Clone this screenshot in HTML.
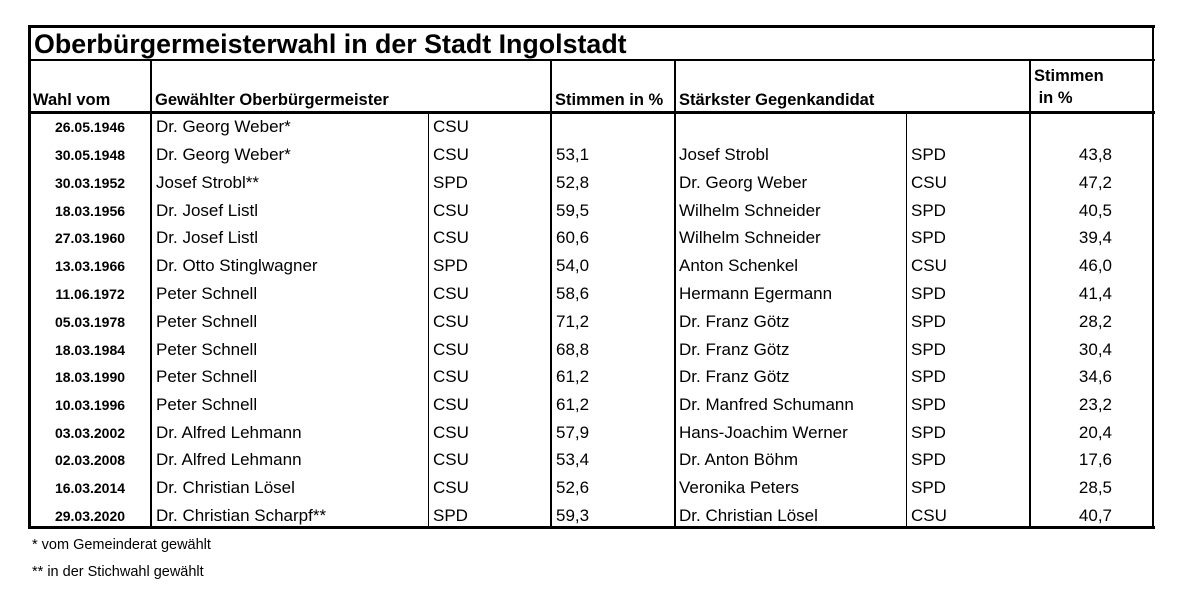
<!DOCTYPE html>
<html><head><meta charset="utf-8"><style>
body{margin:0;background:#fff;width:1186px;height:596px;position:relative;overflow:hidden;font-family:"Liberation Sans",Arial,sans-serif;color:#000}
div{position:absolute;white-space:nowrap}
.l{background:#000}
.t{line-height:20px}
.d{font-weight:bold;font-size:14px;width:120px;left:30px;text-align:center}
.n{font-size:17px;left:156px}
.p{font-size:17px;left:433px}
.s{font-size:17px;left:556px}
.o{font-size:17px;left:679px}
.q{font-size:17px;left:911px}
.v{font-size:17px;left:1030px;width:82px;text-align:right}
.h{font-weight:bold;font-size:16.5px}
</style></head><body>
<div class="l" style="left:28px;top:25px;width:1127px;height:3px"></div>
<div class="l" style="left:28px;top:59px;width:1127px;height:2px"></div>
<div class="l" style="left:28px;top:111px;width:1127px;height:3px"></div>
<div class="l" style="left:28px;top:526px;width:1127px;height:3px"></div>
<div class="l" style="left:28px;top:25px;width:3px;height:504px"></div>
<div class="l" style="left:1152px;top:25px;width:2px;height:504px"></div>
<div class="l" style="left:150px;top:60px;width:2px;height:468px"></div>
<div class="l" style="left:428px;top:113px;width:1px;height:415px"></div>
<div class="l" style="left:550px;top:60px;width:2px;height:468px"></div>
<div class="l" style="left:674px;top:60px;width:2px;height:468px"></div>
<div class="l" style="left:906px;top:113px;width:1px;height:415px"></div>
<div class="l" style="left:1029px;top:60px;width:2px;height:468px"></div>
<div style="left:34px;top:28px;font-size:26.8px;font-weight:bold;line-height:32px">Oberbürgermeisterwahl in der Stadt Ingolstadt</div>
<div class="h" style="left:33px;top:91px">Wahl vom</div>
<div class="h" style="left:155px;top:91px">Gewählter Oberbürgermeister</div>
<div class="h" style="left:555px;top:91px">Stimmen in %</div>
<div class="h" style="left:679px;top:91px">Stärkster Gegenkandidat</div>
<div class="h" style="left:1034px;top:67px">Stimmen</div>
<div class="h" style="left:1034px;top:89px">&nbsp;in %</div>
<div class="t" style="left:0;top:117px;width:1186px;height:0">
<div class="d" style="top:0">26.05.1946</div><div class="n">Dr. Georg Weber*</div><div class="p">CSU</div>
</div>
<div class="t" style="left:0;top:145px;width:1186px"><div class="d">30.05.1948</div><div class="n">Dr. Georg Weber*</div><div class="p">CSU</div><div class="s">53,1</div><div class="o">Josef Strobl</div><div class="q">SPD</div><div class="v">43,8</div></div>
<div class="t" style="left:0;top:173px;width:1186px"><div class="d">30.03.1952</div><div class="n">Josef Strobl**</div><div class="p">SPD</div><div class="s">52,8</div><div class="o">Dr. Georg Weber</div><div class="q">CSU</div><div class="v">47,2</div></div>
<div class="t" style="left:0;top:201px;width:1186px"><div class="d">18.03.1956</div><div class="n">Dr. Josef Listl</div><div class="p">CSU</div><div class="s">59,5</div><div class="o">Wilhelm Schneider</div><div class="q">SPD</div><div class="v">40,5</div></div>
<div class="t" style="left:0;top:228px;width:1186px"><div class="d">27.03.1960</div><div class="n">Dr. Josef Listl</div><div class="p">CSU</div><div class="s">60,6</div><div class="o">Wilhelm Schneider</div><div class="q">SPD</div><div class="v">39,4</div></div>
<div class="t" style="left:0;top:256px;width:1186px"><div class="d">13.03.1966</div><div class="n">Dr. Otto Stinglwagner</div><div class="p">SPD</div><div class="s">54,0</div><div class="o">Anton Schenkel</div><div class="q">CSU</div><div class="v">46,0</div></div>
<div class="t" style="left:0;top:284px;width:1186px"><div class="d">11.06.1972</div><div class="n">Peter Schnell</div><div class="p">CSU</div><div class="s">58,6</div><div class="o">Hermann Egermann</div><div class="q">SPD</div><div class="v">41,4</div></div>
<div class="t" style="left:0;top:312px;width:1186px"><div class="d">05.03.1978</div><div class="n">Peter Schnell</div><div class="p">CSU</div><div class="s">71,2</div><div class="o">Dr. Franz Götz</div><div class="q">SPD</div><div class="v">28,2</div></div>
<div class="t" style="left:0;top:340px;width:1186px"><div class="d">18.03.1984</div><div class="n">Peter Schnell</div><div class="p">CSU</div><div class="s">68,8</div><div class="o">Dr. Franz Götz</div><div class="q">SPD</div><div class="v">30,4</div></div>
<div class="t" style="left:0;top:367px;width:1186px"><div class="d">18.03.1990</div><div class="n">Peter Schnell</div><div class="p">CSU</div><div class="s">61,2</div><div class="o">Dr. Franz Götz</div><div class="q">SPD</div><div class="v">34,6</div></div>
<div class="t" style="left:0;top:395px;width:1186px"><div class="d">10.03.1996</div><div class="n">Peter Schnell</div><div class="p">CSU</div><div class="s">61,2</div><div class="o">Dr. Manfred Schumann</div><div class="q">SPD</div><div class="v">23,2</div></div>
<div class="t" style="left:0;top:423px;width:1186px"><div class="d">03.03.2002</div><div class="n">Dr. Alfred Lehmann</div><div class="p">CSU</div><div class="s">57,9</div><div class="o">Hans-Joachim Werner</div><div class="q">SPD</div><div class="v">20,4</div></div>
<div class="t" style="left:0;top:450px;width:1186px"><div class="d">02.03.2008</div><div class="n">Dr. Alfred Lehmann</div><div class="p">CSU</div><div class="s">53,4</div><div class="o">Dr. Anton Böhm</div><div class="q">SPD</div><div class="v">17,6</div></div>
<div class="t" style="left:0;top:478px;width:1186px"><div class="d">16.03.2014</div><div class="n">Dr. Christian Lösel</div><div class="p">CSU</div><div class="s">52,6</div><div class="o">Veronika Peters</div><div class="q">SPD</div><div class="v">28,5</div></div>
<div class="t" style="left:0;top:506px;width:1186px"><div class="d">29.03.2020</div><div class="n">Dr. Christian Scharpf**</div><div class="p">SPD</div><div class="s">59,3</div><div class="o">Dr. Christian Lösel</div><div class="q">CSU</div><div class="v">40,7</div></div>
<div style="left:32px;top:537px;font-size:14.5px">* vom Gemeinderat gewählt</div>
<div style="left:32px;top:564px;font-size:14.5px">** in der Stichwahl gewählt</div>
</body></html>
